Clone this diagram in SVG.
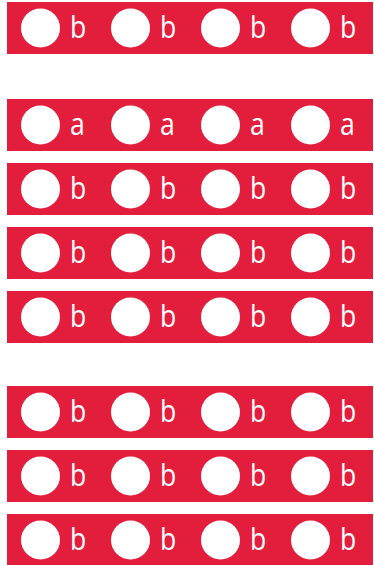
<svg xmlns="http://www.w3.org/2000/svg" width="374" height="565" viewBox="0 0 374 565">
<style>
.bar{fill:#E31D3C}
.dot{fill:#fff}
.t{fill:#fff;font-family:"Open Sans","Noto Sans",sans-serif;font-size:31px}
</style>
<defs>
<g id="rowb">
<rect class="bar" x="7" y="0" width="366" height="52"/>
<circle class="dot" cx="40.5" cy="26" r="19.5"/><text class="t" transform="translate(70,35.5) scale(0.86,1)">b</text>
<circle class="dot" cx="130.5" cy="26" r="19.5"/><text class="t" transform="translate(160,35.5) scale(0.86,1)">b</text>
<circle class="dot" cx="220.5" cy="26" r="19.5"/><text class="t" transform="translate(250,35.5) scale(0.86,1)">b</text>
<circle class="dot" cx="310.5" cy="26" r="19.5"/><text class="t" transform="translate(340,35.5) scale(0.86,1)">b</text>
</g>
</defs>
<g id="row1" transform="translate(0,2)"><use href="#rowb"/></g>
<g id="row2" transform="translate(0,99)">
<rect class="bar" x="7" y="0" width="366" height="52"/>
<circle class="dot" cx="40.5" cy="26" r="19.5"/><text class="t" transform="translate(70,36) scale(0.86,1)">a</text>
<circle class="dot" cx="130.5" cy="26" r="19.5"/><text class="t" transform="translate(160,36) scale(0.86,1)">a</text>
<circle class="dot" cx="220.5" cy="26" r="19.5"/><text class="t" transform="translate(250,36) scale(0.86,1)">a</text>
<circle class="dot" cx="310.5" cy="26" r="19.5"/><text class="t" transform="translate(340,36) scale(0.86,1)">a</text>
</g>
<g id="row3" transform="translate(0,163)"><use href="#rowb"/></g>
<g id="row4" transform="translate(0,227)"><use href="#rowb"/></g>
<g id="row5" transform="translate(0,291)"><use href="#rowb"/></g>
<g id="row6" transform="translate(0,386)"><use href="#rowb"/></g>
<g id="row7" transform="translate(0,450)"><use href="#rowb"/></g>
<g id="row8" transform="translate(0,514)"><use href="#rowb"/></g>
<g id="connectors"/>
</svg>
